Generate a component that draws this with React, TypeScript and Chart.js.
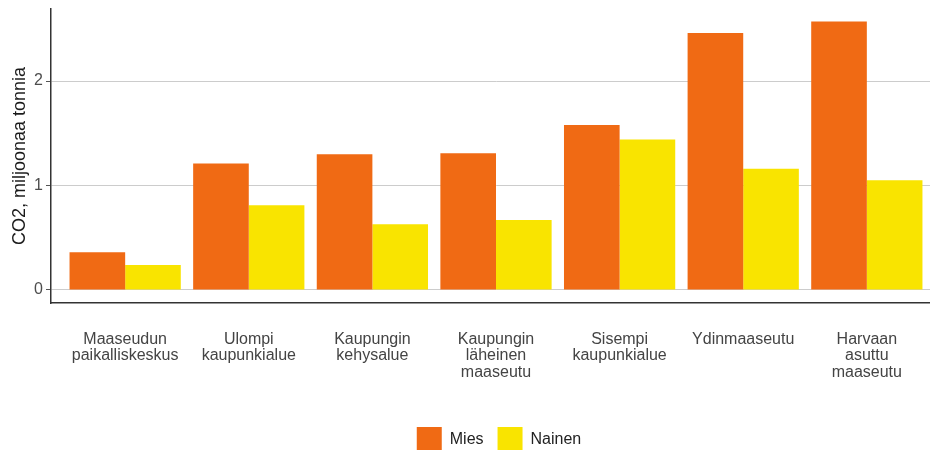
import React, { useEffect, useRef } from "react";
import { Chart, registerables } from "chart.js";

Chart.register(...registerables);

const categories: string[][] = [
  ["Maaseudun", "paikalliskeskus"],
  ["Ulompi", "kaupunkialue"],
  ["Kaupungin", "kehysalue"],
  ["Kaupungin", "läheinen", "maaseutu"],
  ["Sisempi", "kaupunkialue"],
  ["Ydinmaaseutu"],
  ["Harvaan", "asuttu", "maaseutu"],
];

const miesValues: number[] = [0.36, 1.21, 1.3, 1.31, 1.58, 2.46, 2.57];
const nainenValues: number[] = [0.24, 0.81, 0.63, 0.67, 1.44, 1.16, 1.05];

const yTicks: number[] = [0, 1, 2];
const yTitle = "CO2, miljoonaa tonnia";
const seriesNames: string[] = ["Mies", "Nainen"];

const CANVAS_W = 998;
const CANVAS_H = 462;

export default function App() {
  const ref = useRef<HTMLCanvasElement | null>(null);

  useEffect(() => {
    if (!ref.current) return;
    Chart.defaults.font.family = "'Liberation Sans', Arial, sans-serif";
    const chart = new Chart(ref.current, {
      type: "bar",
      data: {
        datasets: [
          {
            label: seriesNames[0],
            data: miesValues.map((y, i) => ({ x: i + 1, y })),
            backgroundColor: "#F06A14",
            borderWidth: 0,
          },
          {
            label: seriesNames[1],
            data: nainenValues.map((y, i) => ({ x: i + 1, y })),
            backgroundColor: "#F9E400",
            borderWidth: 0,
          },
        ],
      },
      options: {
        responsive: false,
        animation: false,
        layout: { padding: { top: 9, left: 0, right: 0, bottom: 0 } },
        datasets: {
          bar: { categoryPercentage: 0.9, barPercentage: 1.0 },
        },
        plugins: {
          tooltip: { enabled: false },
          legend: {
            position: "bottom",
            labels: {
              boxWidth: 25,
              boxHeight: 25,
              padding: 14,
              color: "#222222",
              font: { size: 16 },
            },
          },
        },
        scales: {
          x: {
            type: "linear",
            position: "bottom",
            offset: false,
            min: 0.4,
            max: 7.6,
            grid: { display: false, drawTicks: false, offset: false },
            border: { display: true, color: "#333333", width: 1.5 },
            afterBuildTicks: (s: any) => {
              s.ticks = categories.map((_, i) => ({ value: i + 1 }));
            },
            afterFit: (s: any) => {
              s.height = 110;
              s.paddingLeft = 0;
              s.paddingRight = 0;
            },
            ticks: {
              autoSkip: false,
              maxRotation: 0,
              minRotation: 0,
              padding: 28,
              color: "#444444",
              font: { size: 16, lineHeight: 1.03 },
              callback: (v: any) => categories[Math.round(Number(v)) - 1] ?? "",
            },
          },
          y: {
            type: "linear",
            position: "left",
            min: -0.125,
            max: 2.69,
            afterBuildTicks: (s: any) => {
              s.ticks = yTicks.map((v) => ({ value: v }));
            },
            afterFit: (s: any) => {
              s.width = 51;
              s.paddingTop = 0;
              s.paddingBottom = 0;
            },
            grid: {
              color: "#cccccc",
              lineWidth: 1,
              drawTicks: true,
              tickLength: 5,
              tickColor: "#555555",
            },
            border: { display: true, color: "#333333", width: 1.5 },
            ticks: {
              padding: 3,
              color: "#4d4d4d",
              font: { size: 16 },
            },
            title: {
              display: true,
              text: yTitle,
              color: "#1a1a1a",
              font: { size: 18 },
              padding: { top: 9, bottom: 0 },
            },
          },
          yRight: {
            type: "linear",
            position: "right",
            display: true,
            grid: { display: false, drawTicks: false },
            border: { display: false },
            ticks: { display: false },
            afterFit: (s: any) => {
              s.width = 57;
              s.paddingTop = 0;
              s.paddingBottom = 0;
            },
          },
        },
      } as any,
    });
    return () => chart.destroy();
  }, []);

  return (
    <div
      style={{
        position: "fixed",
        left: 0,
        top: 0,
        width: 930,
        height: 450,
        overflow: "hidden",
        background: "#ffffff",
      }}
    >
      <canvas ref={ref} width={CANVAS_W} height={CANVAS_H} style={{ display: "block" }} />
    </div>
  );
}
